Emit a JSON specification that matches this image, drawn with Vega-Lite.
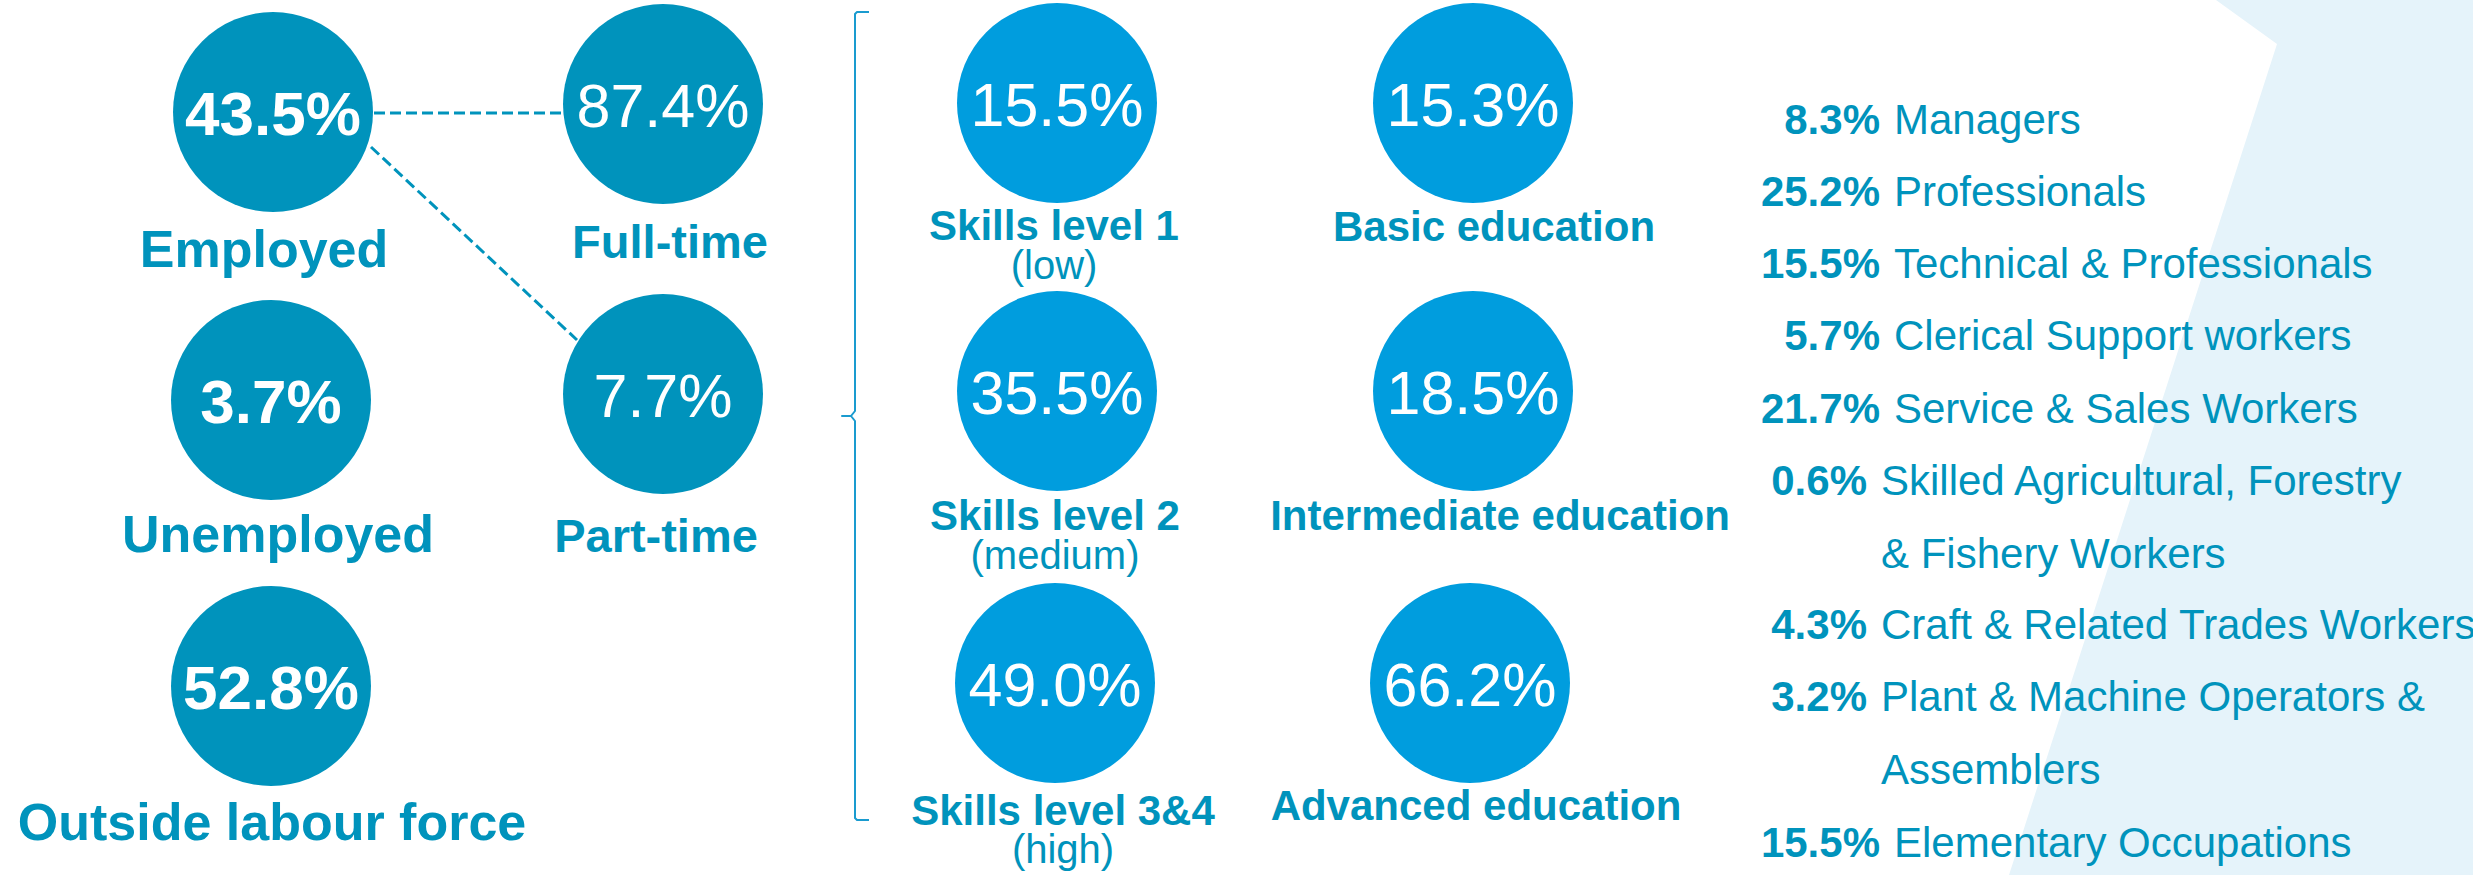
{
  "$schema": "https://vega.github.io/schema/vega-lite/v6.json",
  "width": 2473,
  "height": 875,
  "autosize": "none",
  "padding": 0,
  "background": "white",
  "config": {"view": {"stroke": null}, "font": "Liberation Sans", "text": {"font": "Liberation Sans"}},
  "datasets": {
    "bg": [
      {"y": 0, "x": 2216, "x2": 2473},
      {"y": 44, "x": 2277, "x2": 2473},
      {"y": 875, "x": 2009, "x2": 2473}
    ],
    "links": [
      {"from": "Employed", "to": "Full-time", "x": 374, "y": 113, "x2": 563, "y2": 113},
      {"from": "Employed", "to": "Part-time", "x": 371, "y": 147, "x2": 577, "y2": 340}
    ],
    "bracket": [
      {"i": 1, "x": 869, "y": 12},
      {"i": 2, "x": 857, "y": 12},
      {"i": 3, "x": 855, "y": 14},
      {"i": 4, "x": 855, "y": 411},
      {"i": 5, "x": 851, "y": 416},
      {"i": 6, "x": 842, "y": 416},
      {"i": 7, "x": 851, "y": 416},
      {"i": 8, "x": 855, "y": 421},
      {"i": 9, "x": 855, "y": 818},
      {"i": 10, "x": 857, "y": 820},
      {"i": 11, "x": 869, "y": 820}
    ],
    "circles": [
      {"name": "Employed", "group": "status", "tier": "main", "value": 0.435, "x": 273, "y": 112},
      {"name": "Full-time", "group": "status", "tier": "sub", "value": 0.874, "x": 663, "y": 104},
      {"name": "Unemployed", "group": "status", "tier": "main", "value": 0.037, "x": 271, "y": 400},
      {"name": "Part-time", "group": "status", "tier": "sub", "value": 0.077, "x": 663, "y": 394},
      {"name": "Outside labour force", "group": "status", "tier": "main", "value": 0.528, "x": 271, "y": 686},
      {"name": "Skills level 1", "group": "profile", "tier": "sub", "value": 0.155, "x": 1057, "y": 103},
      {"name": "Basic education", "group": "profile", "tier": "sub", "value": 0.153, "x": 1473, "y": 103},
      {"name": "Skills level 2", "group": "profile", "tier": "sub", "value": 0.355, "x": 1057, "y": 391},
      {"name": "Intermediate education", "group": "profile", "tier": "sub", "value": 0.185, "x": 1473, "y": 391},
      {"name": "Skills level 3&4", "group": "profile", "tier": "sub", "value": 0.49, "x": 1055, "y": 683},
      {"name": "Advanced education", "group": "profile", "tier": "sub", "value": 0.662, "x": 1470, "y": 683}
    ],
    "captions": [
      {"text": "Employed", "kind": "primary", "x": 264, "y": 267},
      {"text": "Full-time", "kind": "branch", "x": 670, "y": 258},
      {"text": "Unemployed", "kind": "primary", "x": 278, "y": 552},
      {"text": "Part-time", "kind": "branch", "x": 656, "y": 552},
      {"text": "Outside labour force", "kind": "primary", "x": 272, "y": 840},
      {"text": "Skills level 1", "kind": "secondary", "x": 1054, "y": 240},
      {"text": "Basic education", "kind": "secondary", "x": 1494, "y": 241},
      {"text": "Skills level 2", "kind": "secondary", "x": 1055, "y": 530},
      {"text": "Intermediate education", "kind": "secondary", "x": 1500, "y": 530},
      {"text": "Skills level 3&4", "kind": "secondary", "x": 1063, "y": 825},
      {"text": "Advanced education", "kind": "secondary", "x": 1476, "y": 820},
      {"text": "(low)", "kind": "note", "x": 1054, "y": 279},
      {"text": "(medium)", "kind": "note", "x": 1055, "y": 569},
      {"text": "(high)", "kind": "note", "x": 1063, "y": 863}
    ],
    "occupations": [
      {"value": 0.083, "occupation": "Managers", "x": 1880, "y": 134},
      {"value": 0.252, "occupation": "Professionals", "x": 1880, "y": 206},
      {"value": 0.155, "occupation": "Technical & Professionals", "x": 1880, "y": 278},
      {"value": 0.057, "occupation": "Clerical Support workers", "x": 1880, "y": 350},
      {"value": 0.217, "occupation": "Service & Sales Workers", "x": 1880, "y": 423},
      {"value": 0.006, "occupation": "Skilled Agricultural, Forestry\n& Fishery Workers", "x": 1867, "y": 495},
      {"value": 0.043, "occupation": "Craft & Related Trades Workers", "x": 1867, "y": 639},
      {"value": 0.032, "occupation": "Plant & Machine Operators &\nAssemblers", "x": 1867, "y": 711},
      {"value": 0.155, "occupation": "Elementary Occupations", "x": 1880, "y": 857}
    ]
  },
  "encoding": {
    "x": {"field": "x", "type": "quantitative", "scale": {"domain": [0, 2473], "nice": false, "zero": false}, "axis": null},
    "y": {"field": "y", "type": "quantitative", "scale": {"domain": [0, 875], "nice": false, "zero": false, "reverse": true}, "axis": null}
  },
  "layer": [
    {
      "data": {"name": "bg"},
      "mark": {"type": "area", "orient": "horizontal", "color": "#E5F3FA"},
      "encoding": {"x2": {"field": "x2"}}
    },
    {
      "data": {"name": "links"},
      "mark": {"type": "rule", "color": "#0093BC", "strokeWidth": 3, "strokeDash": [11, 5]},
      "encoding": {"x2": {"field": "x2"}, "y2": {"field": "y2"}}
    },
    {
      "data": {"name": "bracket"},
      "mark": {"type": "line", "color": "#1A9BCF", "strokeWidth": 2, "strokeJoin": "round"},
      "encoding": {"order": {"field": "i", "type": "quantitative"}}
    },
    {
      "data": {"name": "circles"},
      "mark": {"type": "point", "shape": "circle", "filled": true, "opacity": 1, "size": 40000},
      "encoding": {
        "color": {"field": "group", "type": "nominal", "scale": {"domain": ["status", "profile"], "range": ["#0093BC", "#009DDE"]}, "legend": null}
      }
    },
    {
      "data": {"name": "circles"},
      "transform": [{"filter": "datum.tier === 'main'"}],
      "mark": {"type": "text", "font": "Liberation Sans", "color": "white", "fontSize": 62, "fontWeight": "bold", "align": "center", "baseline": "alphabetic", "dy": 23},
      "encoding": {"text": {"field": "value", "type": "quantitative", "format": ".1%"}}
    },
    {
      "data": {"name": "circles"},
      "transform": [{"filter": "datum.tier === 'sub'"}],
      "mark": {"type": "text", "font": "Liberation Sans", "color": "white", "fontSize": 61, "fontWeight": "normal", "align": "center", "baseline": "alphabetic", "dy": 23},
      "encoding": {"text": {"field": "value", "type": "quantitative", "format": ".1%"}}
    },
    {
      "data": {"name": "captions"},
      "transform": [{"filter": "datum.kind === 'primary'"}],
      "mark": {"type": "text", "font": "Liberation Sans", "color": "#0093BC", "fontSize": 52, "fontWeight": "bold", "align": "center", "baseline": "alphabetic"},
      "encoding": {"text": {"field": "text"}}
    },
    {
      "data": {"name": "captions"},
      "transform": [{"filter": "datum.kind === 'branch'"}],
      "mark": {"type": "text", "font": "Liberation Sans", "color": "#0093BC", "fontSize": 47, "fontWeight": "bold", "align": "center", "baseline": "alphabetic"},
      "encoding": {"text": {"field": "text"}}
    },
    {
      "data": {"name": "captions"},
      "transform": [{"filter": "datum.kind === 'secondary'"}],
      "mark": {"type": "text", "font": "Liberation Sans", "color": "#0093BC", "fontSize": 42, "fontWeight": "bold", "align": "center", "baseline": "alphabetic"},
      "encoding": {"text": {"field": "text"}}
    },
    {
      "data": {"name": "captions"},
      "transform": [{"filter": "datum.kind === 'note'"}],
      "mark": {"type": "text", "font": "Liberation Sans", "color": "#0093BC", "fontSize": 40, "fontWeight": "normal", "align": "center", "baseline": "alphabetic"},
      "encoding": {"text": {"field": "text"}}
    },
    {
      "data": {"name": "occupations"},
      "mark": {"type": "text", "font": "Liberation Sans", "color": "#0093BC", "fontSize": 42, "fontWeight": "bold", "align": "right", "baseline": "alphabetic"},
      "encoding": {"text": {"field": "value", "type": "quantitative", "format": ".1%"}}
    },
    {
      "data": {"name": "occupations"},
      "mark": {"type": "text", "font": "Liberation Sans", "color": "#0093BC", "fontSize": 42, "fontWeight": "normal", "align": "left", "baseline": "alphabetic", "dx": 14, "lineBreak": "\n", "lineHeight": 73},
      "encoding": {"text": {"field": "occupation"}}
    }
  ]
}
